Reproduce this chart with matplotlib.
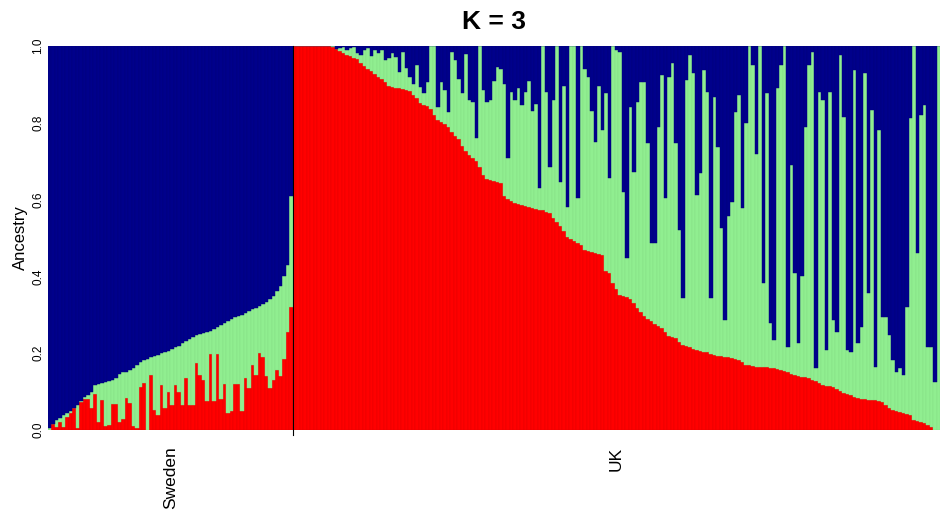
import numpy as np
import matplotlib
matplotlib.use("Agg")
import matplotlib.pyplot as plt

plt.rcParams['font.family'] = ['Liberation Sans', 'DejaVu Sans']

populations = ["Sweden", "UK"]
title = "K = 3"
ylabel = "Ancestry"
ytick_values = [0.0, 0.2, 0.4, 0.6, 0.8, 1.0]

# ancestry proportions per individual (cluster 1 = red, cluster 3 = blue; green = rest)
sweden_red = [0.0, 0.015, 0.008, 0.022, 0.008, 0.035, 0.043, 0.056, 0.005, 0.074,
              0.082, 0.08, 0.056, 0.095, 0.02, 0.078, 0.01, 0.012, 0.069, 0.069,
              0.02, 0.028, 0.083, 0.07, 0.01, 0.005, 0.113, 0.122, 0.0, 0.143,
              0.052, 0.039, 0.117, 0.057, 0.1, 0.065, 0.117, 0.1, 0.065, 0.135,
              0.065, 0.065, 0.175, 0.143, 0.13, 0.076, 0.198, 0.075, 0.198, 0.08,
              0.12, 0.044, 0.05, 0.12, 0.12, 0.05, 0.135, 0.11, 0.17, 0.143,
              0.2, 0.19, 0.14, 0.11, 0.13, 0.156, 0.14, 0.185, 0.256, 0.32]
sweden_blue = [0.995, 0.984, 0.975, 0.97, 0.96, 0.955, 0.95, 0.942, 0.936, 0.925,
               0.915, 0.91, 0.902, 0.883, 0.88, 0.877, 0.875, 0.872, 0.869, 0.865,
               0.855, 0.85, 0.848, 0.844, 0.838, 0.83, 0.822, 0.819, 0.815, 0.811,
               0.808, 0.804, 0.8, 0.797, 0.793, 0.789, 0.785, 0.78, 0.774, 0.768,
               0.763, 0.758, 0.753, 0.75, 0.748, 0.746, 0.742, 0.737, 0.731, 0.726,
               0.721, 0.715, 0.71, 0.707, 0.704, 0.7, 0.696, 0.69, 0.686, 0.682,
               0.678, 0.673, 0.667, 0.66, 0.65, 0.637, 0.625, 0.6, 0.57, 0.39]

uk_red = [1.0, 1.0, 1.0, 1.0, 1.0, 1.0, 1.0, 1.0, 1.0, 1.0,
          1.0, 0.997, 0.993, 0.988, 0.982, 0.977, 0.974, 0.97, 0.966, 0.957,
          0.949, 0.941, 0.934, 0.927, 0.92, 0.913, 0.905, 0.896, 0.893, 0.891,
          0.89, 0.888, 0.886, 0.882, 0.872, 0.864, 0.852, 0.846, 0.843, 0.836,
          0.82, 0.808, 0.801, 0.796, 0.79, 0.776, 0.765, 0.757, 0.74, 0.727,
          0.716, 0.708, 0.7, 0.685, 0.665, 0.653, 0.65, 0.648, 0.647, 0.643,
          0.61, 0.602, 0.596, 0.592, 0.589, 0.586, 0.583, 0.58, 0.577, 0.575,
          0.574, 0.573, 0.569, 0.564, 0.553, 0.542, 0.53, 0.518, 0.502, 0.497,
          0.492, 0.488, 0.481, 0.469, 0.466, 0.463, 0.461, 0.459, 0.457, 0.415,
          0.408, 0.382, 0.366, 0.352, 0.349, 0.346, 0.342, 0.33, 0.319, 0.306,
          0.296, 0.289, 0.283, 0.276, 0.271, 0.266, 0.255, 0.246, 0.243, 0.24,
          0.23, 0.221, 0.218, 0.215, 0.212, 0.209, 0.206, 0.204, 0.202, 0.199,
          0.196, 0.194, 0.192, 0.19, 0.189, 0.187, 0.185, 0.183, 0.176, 0.17,
          0.168, 0.166, 0.165, 0.164, 0.163, 0.163, 0.162, 0.161, 0.16, 0.157,
          0.154, 0.151, 0.146, 0.142, 0.14, 0.138, 0.137, 0.135, 0.131, 0.127,
          0.122, 0.117, 0.115, 0.114, 0.112, 0.107, 0.102, 0.097, 0.093, 0.09,
          0.086, 0.083, 0.081, 0.08, 0.079, 0.078, 0.077, 0.075, 0.074, 0.065,
          0.057, 0.053, 0.05, 0.048, 0.044, 0.041, 0.039, 0.026, 0.024, 0.022,
          0.018, 0.014, 0.008, 0.0, 0.0]
uk_blue = [0.0, 0.0, 0.0, 0.0, 0.0, 0.0, 0.0, 0.0, 0.0, 0.0,
           0.0, 0.0, 0.007, 0.006, 0.003, 0.01, 0.006, 0.003, 0.019, 0.023,
           0.01, 0.006, 0.026, 0.01, 0.019, 0.01, 0.036, 0.032, 0.019, 0.028,
           0.067, 0.015, 0.058, 0.08, 0.1, 0.05, 0.106, 0.123, 0.093, 0.0,
           0.0, 0.158, 0.093, 0.115, 0.171, 0.015, 0.036, 0.085, 0.123, 0.02,
           0.14, 0.145, 0.24, 0.0, 0.115, 0.145, 0.14, 0.09, 0.054, 0.06,
           0.1, 0.292, 0.12, 0.14, 0.11, 0.154, 0.12, 0.09, 0.17, 0.15,
           0.37, 0.0, 0.12, 0.314, 0.14, 0.0, 0.353, 0.105, 0.418, 0.0,
           0.0, 0.397, 0.0, 0.06, 0.08, 0.17, 0.249, 0.105, 0.219, 0.123,
           0.345, 0.0, 0.01, 0.015, 0.38, 0.553, 0.16, 0.327, 0.145, 0.095,
           0.093, 0.253, 0.514, 0.514, 0.21, 0.076, 0.397, 0.08, 0.045, 0.253,
           0.479, 0.657, 0.089, 0.023, 0.07, 0.388, 0.332, 0.062, 0.12, 0.657,
           0.132, 0.262, 0.475, 0.714, 0.444, 0.405, 0.171, 0.128, 0.423, 0.2,
           0.0, 0.05, 0.28, 0.0, 0.618, 0.123, 0.722, 0.766, 0.11, 0.05,
           0.0, 0.783, 0.31, 0.592, 0.774, 0.6, 0.21, 0.05, 0.015, 0.839,
           0.119, 0.141, 0.792, 0.119, 0.714, 0.745, 0.023, 0.184, 0.792, 0.796,
           0.062, 0.774, 0.731, 0.071, 0.644, 0.167, 0.835, 0.219, 0.705, 0.705,
           0.753, 0.818, 0.848, 0.839, 0.857, 0.679, 0.188, 0.0, 0.54, 0.18,
           0.154, 0.783, 0.783, 0.875, 0.0]

col_red = "#FF0000"
col_green = "#90EE90"
col_blue = "#00008B"

red = np.array(sweden_red + uk_red)
blue = np.minimum(np.array(sweden_blue + uk_blue), 1 - red)
green = 1 - red - blue
n = len(red)
x = np.arange(n)

fig = plt.figure(figsize=(9.4, 5.14), dpi=100)
ax = fig.add_axes([48 / 940, 84 / 514, 892 / 940, 384 / 514])
kw = dict(width=1.0, align='edge', linewidth=0.3)
ax.bar(x, red, color=col_red, edgecolor="#E00000", **kw)
ax.bar(x, green, bottom=red, color=col_green, edgecolor="#84DC84", **kw)
ax.bar(x, blue, bottom=red + green, color=col_blue, edgecolor="#00007A", **kw)
ax.set_xlim(0, n)
ax.set_ylim(0, 1)

sep = len(sweden_red)
ax.plot([sep, sep], [-0.012, 1], color="black", lw=0.8, clip_on=False, zorder=5)

for s in ax.spines.values():
    s.set_visible(False)

ax.set_xticks([sep / 2, sep + len(uk_red) / 2])
ax.set_xticklabels(populations, rotation=90, fontsize=12.5)
ax.tick_params(axis='x', length=0, pad=12)

ax.set_yticks(ytick_values)
ax.set_yticklabels([f"{v:.1f}" for v in ytick_values], rotation=90, va='center', fontsize=8.5)
ax.tick_params(axis='y', length=0, pad=2.5)
ax.set_ylabel(ylabel, fontsize=12, labelpad=3)

fig.text((48 + 940) / 2 / 940, 1 - 22 / 514, title, ha='center', va='center',
         fontsize=19, fontweight='bold')

fig.savefig("out.png", dpi=100)
